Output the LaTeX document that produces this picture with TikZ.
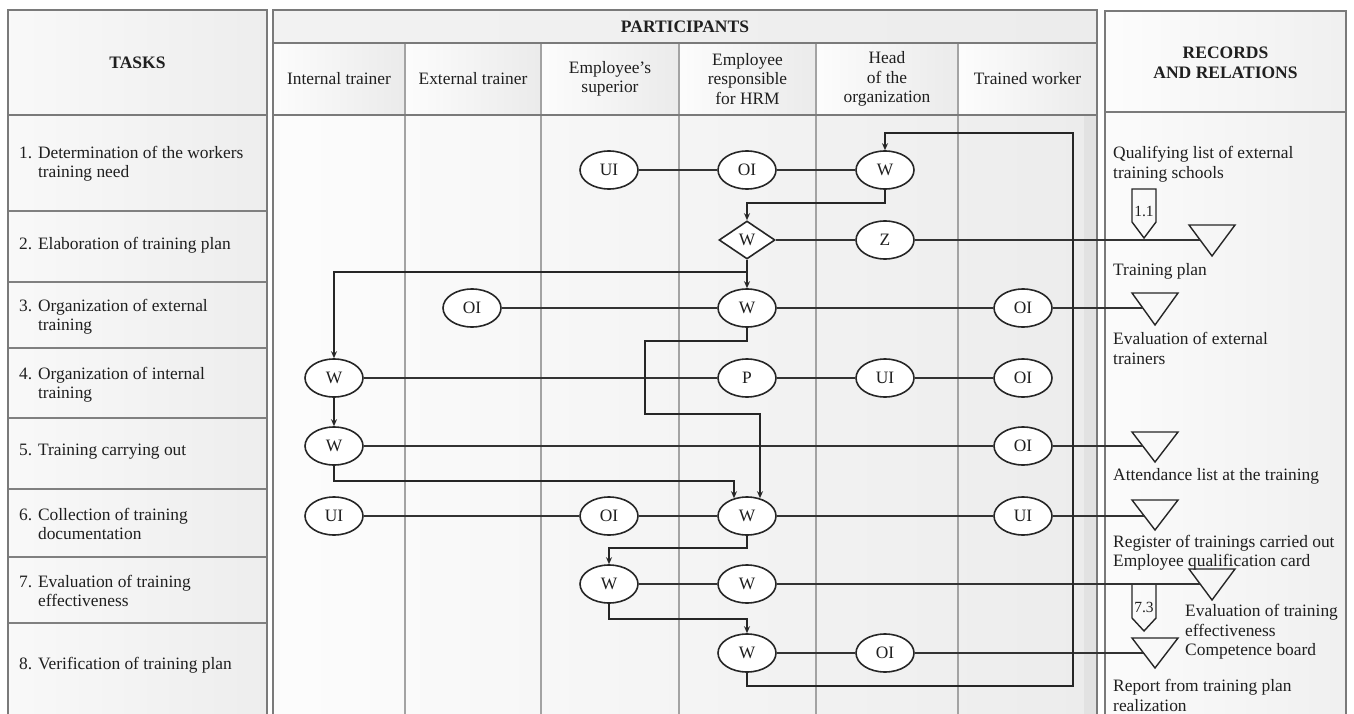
\documentclass[tikz,border=0pt]{standalone}
\usepackage{fontspec}
\setmainfont{Liberation Serif}
\usetikzlibrary{shapes.geometric,arrows.meta}
\newcommand\myfs{\fontsize{17.4}{19.5}\selectfont}
\newcommand\myhfs{\fontsize{17.5}{20}\selectfont\bfseries}
\newcommand\mysfs{\fontsize{15.5}{17}\selectfont}
\begin{document}
\begin{tikzpicture}[x=1pt,y=-1pt,
  every node/.style={text=black!88},
  ev/.style={ellipse,draw=black!85,line width=1.6pt,fill=white,minimum width=58pt,minimum height=38pt,inner sep=0pt,font=\myfs},
  dia/.style={diamond,draw=black!85,line width=1.6pt,fill=white,minimum width=56pt,minimum height=38pt,inner sep=0pt,font=\myfs},
  rowline/.style={draw=black!80,line width=1.1pt},
  flow/.style={draw=black!85,line width=2pt,-{Stealth[length=7pt,width=6pt]}},
  frame/.style={draw=black!52,line width=2.4pt},
  gridl/.style={draw=black!50,line width=1.8pt},
  gridp/.style={draw=black!36,line width=1.8pt},
  symb/.style={draw=black!85,line width=1.4pt},
  hdr/.style={font=\myhfs,align=center},
  chdr/.style={font=\myfs,align=center},
  lbl/.style={font=\myfs,align=left,anchor=west,inner sep=0pt},
]
\useasboundingbox (0,0) rectangle (1354,714);
\clip (0,0) rectangle (1354,714);
\fill[white] (0,0) rectangle (1354,714);
% ---------- backgrounds ----------
\shade[left color=gray!5,right color=gray!14] (8,10) rectangle (267,720);
\shade[left color=gray!10,right color=gray!15] (273,10) rectangle (1097,43);
\foreach \a/\b in {273/405,405/541,541/679,679/816,816/958,958/1097}
  \shade[left color=gray!2,right color=gray!16] (\a,43) rectangle (\b,115);
\shade[left color=gray!2,right color=gray!15] (273,115) rectangle (1097,720);
\fill[gray!23] (1084,115) rectangle (1097,720);
\shade[left color=gray!2,right color=gray!12] (1105,11) rectangle (1346,112);
\shade[left color=gray!3,right color=gray!12] (1105,112) rectangle (1346,720);
% ---------- grid ----------
\foreach \y in {211,282,348,418,489,557,623}
  \draw[gridl] (8,\y) -- (267,\y);
\foreach \x in {405,541,679,816,958}
  \draw[gridp] (\x,43) -- (\x,720);
\draw[frame] (8,720) -- (8,10) -- (267,10) -- (267,720);
\draw[frame] (8,115) -- (267,115);
\draw[frame] (273,720) -- (273,10) -- (1097,10) -- (1097,720);
\draw[frame] (273,43) -- (1097,43);
\draw[frame] (273,115) -- (1097,115);
\draw[frame] (1105,720) -- (1105,11) -- (1346,11) -- (1346,720);
\draw[frame] (1105,112) -- (1346,112);
% ---------- headers ----------
\node[hdr] (htasks) at (137.5,62.5) {TASKS};
\node[hdr] (hpart) at (685,27) {PARTICIPANTS};
\node[hdr] (hrec) at (1225.5,62.5) {RECORDS\\AND RELATIONS};
\node[chdr] (c1) at (339,79) {Internal trainer};
\node[chdr] (c2) at (473,79) {External trainer};
\node[chdr] (c3) at (610,79) {Employee’s\\superior};
\node[chdr] (c4) at (747.5,79) {Employee\\responsible\\for HRM};
\node[chdr] (c5) at (887,79) {Head\\of the\\organization};
\node[chdr] (c6) at (1027.5,79) {Trained worker};
% ---------- tasks ----------
\node[lbl] (t1) at (19,164) {\begin{tabular}{@{}l@{ }l@{}}1.&Determination of the workers\\&training need\end{tabular}};
\node[lbl] (t2) at (19,245) {2. Elaboration of training plan};
\node[lbl] (t3) at (19,317) {\begin{tabular}{@{}l@{ }l@{}}3.&Organization of external\\&training\end{tabular}};
\node[lbl] (t4) at (19,385) {\begin{tabular}{@{}l@{ }l@{}}4.&Organization of internal\\&training\end{tabular}};
\node[lbl] (t5) at (19,452) {5. Training carrying out};
\node[lbl] (t6) at (19,526) {\begin{tabular}{@{}l@{ }l@{}}6.&Collection of training\\&documentation\end{tabular}};
\node[lbl] (t7) at (19,593) {\begin{tabular}{@{}l@{ }l@{}}7.&Evaluation of training\\&effectiveness\end{tabular}};
\node[lbl] (t8) at (19,665) {8. Verification of training plan};
% ---------- records ----------
\node[lbl] (r1) at (1113,164.5) {Qualifying list of external\\training schools};
\node[lbl] (r2) at (1113,271) {Training plan};
\node[lbl] (r3) at (1113,348.5) {Evaluation of external\\trainers};
\node[lbl] (r4) at (1113,476) {Attendance list at the training};
\node[lbl] (r5) at (1113,552.5) {Register of trainings carried out\\Employee qualification card};
\node[lbl] (r6) at (1185,632) {Evaluation of training\\effectiveness\\Competence board};
\node[lbl] (r7) at (1113,695.5) {Report from training plan\\realization};
% record symbols
\draw[symb] (1189,225) -- (1235,225) -- (1212,256) -- cycle;
\draw[symb] (1132,293) -- (1178,293) -- (1155,325) -- cycle;
\draw[symb] (1132,432) -- (1178,432) -- (1155,462) -- cycle;
\draw[symb] (1132,500) -- (1178,500) -- (1155,530) -- cycle;
\draw[symb] (1189,569) -- (1235,569) -- (1212,600) -- cycle;
\draw[symb] (1132,638) -- (1178,638) -- (1155,668) -- cycle;
\draw[symb] (1132,189) -- (1156,189) -- (1156,222) -- (1144,238) -- (1132,222) -- cycle;
\node[font=\mysfs,inner sep=0pt] (p11) at (1144,211) {1.1};
\draw[symb] (1132,584) -- (1156,584) -- (1156,618) -- (1144,631) -- (1132,618) -- cycle;
\node[font=\mysfs,inner sep=0pt] (p73) at (1144,607) {7.3};
\coordinate (e2) at (1200,240);
\coordinate (e3) at (1143,308);
\coordinate (e5) at (1143,446);
\coordinate (e6) at (1144,516);
\coordinate (e7) at (1200,584);
\coordinate (e8) at (1143,653);
% ---------- process nodes ----------
\node[ev] (ui1) at (609,170) {UI};
\node[ev] (oi1) at (747,170) {OI};
\node[ev] (w1) at (885,170) {W};
\node[dia] (d2) at (747,240) {W};
\node[ev] (z2) at (885,240) {Z};
\node[ev] (oi3a) at (472,308) {OI};
\node[ev] (w3) at (747,308) {W};
\node[ev] (oi3b) at (1023,308) {OI};
\node[ev] (w4) at (334,378) {W};
\node[ev] (p4) at (747,378) {P};
\node[ev] (ui4) at (885,378) {UI};
\node[ev] (oi4) at (1023,378) {OI};
\node[ev] (w5) at (334,446) {W};
\node[ev] (oi5) at (1023,446) {OI};
\node[ev] (ui6a) at (334,516) {UI};
\node[ev] (oi6) at (609,516) {OI};
\node[ev] (w6) at (747,516) {W};
\node[ev] (ui6b) at (1023,516) {UI};
\node[ev] (w7a) at (609,584) {W};
\node[ev] (w7b) at (747,584) {W};
\node[ev] (w8) at (747,653) {W};
\node[ev] (oi8) at (885,653) {OI};
\coordinate (lb) at (1073,686);
\coordinate (lt) at (1073,133);
% ---------- row lines ----------
\begin{scope}[on background layer/.style={}]
\draw[rowline] (ui1) -- (oi1) -- (w1);
\draw[rowline] (d2) -- (z2) -- (e2);
\draw[rowline] (oi3a) -- (w3) -- (oi3b) -- (e3);
\draw[rowline] (w4) -- (p4) -- (ui4) -- (oi4);
\draw[rowline] (w5) -- (oi5) -- (e5);
\draw[rowline] (ui6a) -- (oi6) -- (w6) -- (ui6b) -- (e6);
\draw[rowline] (w7a) -- (w7b) -- (e7);
\draw[rowline] (w8) -- (oi8) -- (e8);
\end{scope}
% ---------- flow connectors ----------
\draw[flow] (w8.south) |- (lb) -- (lt) -| (w1.north);
\draw[flow] (w1.south) -- ++(0,13) -| (d2.north);
\draw[flow] (d2.south) -- (w3.north);
\draw[flow] (d2.south) -- ++(0,12) -| (w4.north);
\draw[flow] (w3.south) -- ++(0,13) -- ++(-102,0) -- ++(0,73) -| ([xshift=13pt,yshift=-2pt]w6.north);
\draw[flow] (w4.south) -- (w5.north);
\draw[flow] (w5.south) -- ++(0,15) -| ([xshift=-13pt,yshift=-2pt]w6.north);
\draw[flow] (w6.south) -- ++(0,12) -| (w7a.north);
\draw[flow] (w7a.south) -- ++(0,15) -| (w8.north);
\end{tikzpicture}
\end{document}
